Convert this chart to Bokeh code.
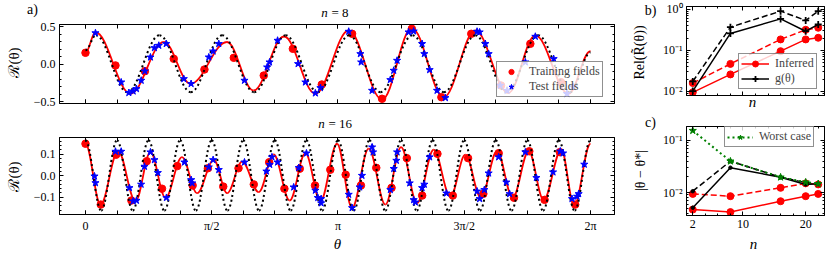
import numpy as np
from bokeh.plotting import figure
from bokeh.models import (Range1d, LinearAxis, LogAxis, FixedTicker, Label, Legend,
                          LegendItem, ColumnDataSource)
from bokeh.layouts import row, column
from bokeh.embed import file_html
from bokeh.resources import INLINE

# ---------------- data ----------------
# panel a, n = 8 : inferred curve (extrema), true curve (extrema)
curve8_theta = [0.0, 0.124, 0.56, 0.974, 1.306, 1.76, 2.09, 2.47, 2.86, 3.275, 3.69, 4.06,
                4.457, 4.85, 5.26, 5.597, 6.01, 6.283]
curve8_R = [0.156, 0.43, -0.39, 0.30, -0.257, 0.30, -0.347, 0.373, -0.39, 0.453, -0.467, 0.484,
            -0.436, 0.453, -0.38, 0.387, -0.39, 0.177]
true8_theta = [0.0, 0.13, 0.52, 0.92, 1.31, 1.70, 2.10, 2.49, 2.89, 3.28, 3.67, 4.07, 4.46,
               4.85, 5.24, 5.63, 6.03, 6.283]
true8_R = [0.19, 0.39, -0.37, 0.39, -0.37, 0.39, -0.37, 0.39, -0.37, 0.39, -0.37, 0.39, -0.37,
           0.39, -0.37, 0.39, -0.37, 0.16]
train8_theta = [0.0, 0.373, 0.739, 1.098, 1.48, 1.845, 2.218, 2.58, 2.94, 3.317, 3.69, 4.06,
                4.428, 4.80, 5.17, 5.535, 5.917]
train8_R = [0.156, -0.013, -0.089, 0.076, -0.067, 0.089, -0.147, 0.209, -0.267, 0.409, -0.457,
            0.476, -0.436, 0.409, -0.28, 0.276, -0.236]
test8_theta = [0.124, 0.444, 0.539, 0.593, 0.634, 0.693, 0.738, 0.808, 0.858, 0.912, 1.004,
               1.223, 1.314, 1.534, 1.588, 1.658, 1.978, 2.26, 2.29, 2.39, 2.645, 2.736, 2.86,
               2.923, 3.275, 3.42, 3.43, 3.566, 3.793, 3.835, 3.877, 4.02, 4.083, 4.188, 4.216,
               4.282, 4.374, 4.478, 4.872, 4.904, 4.975, 5.016, 5.16, 5.245, 5.473, 5.597, 5.825,
               5.99, 6.065]
test8_R = [0.42, -0.236, -0.377, -0.356, -0.324, -0.213, -0.089, 0.097, 0.222, 0.253, 0.276,
           -0.191, -0.257, 0.097, 0.177, 0.276, -0.213, -0.036, 0.031, 0.32, 0.009, -0.236, -0.382,
           -0.311, 0.44, 0.142, 0.031, -0.347, -0.204, -0.08, 0.053, 0.431, 0.444, 0.276, 0.142,
           -0.071, -0.347, -0.444, 0.44, 0.431, 0.276, 0.142, -0.28, -0.347, 0.031, 0.373, 0.076,
           -0.39, -0.30]

# panel a, n = 16
curve16_theta = [0.0, 0.187, 0.405, 0.622, 0.808, 0.995, 1.20, 1.389, 1.596, 1.762, 1.949, 2.156,
                 2.342, 2.54, 2.736, 2.923, 3.13, 3.317, 3.524, 3.731, 3.926, 4.125, 4.332, 4.54,
                 4.726, 4.92, 5.12, 5.315, 5.514, 5.70, 5.92, 6.08, 6.283]
curve16_R = [0.149, -0.134, 0.115, -0.118, 0.11, -0.102, 0.087, -0.081, 0.074, -0.081, 0.066,
             -0.076, 0.099, -0.115, 0.105, -0.118, 0.149, -0.149, 0.126, -0.134, 0.133, -0.127,
             0.121, -0.096, 0.098, -0.102, 0.114, -0.102, 0.114, -0.112, 0.121, -0.138, 0.149]
true16_theta = [0.0, 0.196, 0.393, 0.589, 0.785, 0.982, 1.178, 1.374, 1.571, 1.767, 1.963, 2.160,
                2.356, 2.553, 2.749, 2.945, 3.142, 3.338, 3.534, 3.731, 3.927, 4.123, 4.320, 4.516,
                4.712, 4.909, 5.105, 5.301, 5.498, 5.694, 5.890, 6.087, 6.283]
true16_R = [0.165, -0.162, 0.165, -0.162, 0.165, -0.162, 0.165, -0.162, 0.165, -0.162, 0.165,
            -0.162, 0.165, -0.162, 0.165, -0.162, 0.165, -0.162, 0.165, -0.162, 0.165, -0.162,
            0.165, -0.162, 0.165, -0.162, 0.165, -0.162, 0.165, -0.162, 0.165, -0.162, 0.165]
train16_theta = [0.0, 0.19, 0.381, 0.571, 0.762, 0.952, 1.142, 1.333, 1.523, 1.714, 1.904, 2.094,
                 2.285, 2.475, 2.666, 2.856, 3.046, 3.237, 3.427, 3.618, 3.808, 3.998, 4.189,
                 4.379, 4.57, 4.76, 4.95, 5.141, 5.331, 5.522, 5.712, 5.902, 6.093]
train16_R = [0.149, -0.134, 0.098, -0.115, 0.068, -0.06, 0.045, -0.045, 0.035, -0.05, 0.035,
             -0.04, 0.063, -0.06, 0.033, -0.045, 0.028, 0.005, -0.045, 0.037, -0.056, 0.082,
             -0.092, 0.102, -0.092, 0.082, -0.084, 0.105, -0.102, 0.114, -0.112, 0.11, -0.134]
test16_theta = [0.112, 0.124, 0.373, 0.444, 0.547, 0.593, 0.634, 0.692, 0.734, 0.808, 0.858, 0.9,
                1.007, 1.231, 1.315, 1.327, 1.534, 1.588, 1.658, 1.978, 2.251, 2.292, 2.32, 2.39,
                2.59, 2.653, 2.749, 2.86, 2.89, 2.932, 2.932, 3.275, 3.317, 3.412, 3.44, 3.566,
                3.578, 3.793, 3.835, 3.868, 3.877, 4.034, 4.083, 4.104, 4.188, 4.216, 4.282, 4.49,
                4.872, 4.904, 4.963, 5.016, 5.14, 5.236, 5.277, 5.473, 5.61, 5.817, 5.908, 5.942,
                6.053, 6.116, 6.136, 6.206]
test16_R = [-0.002, -0.033, 0.113, 0.113, -0.056, -0.118, -0.115, -0.04, 0.043, 0.11, 0.074, 0.014,
            -0.102, 0.063, -0.019, -0.034, 0.04, 0.074, 0.028, 0.063, 0.021, 0.052, 0.087, 0.063,
            -0.053, 0.037, 0.105, -0.068, -0.102, -0.107, -0.127, -0.087, -0.149, -0.053, 0.001,
            0.133, 0.11, -0.065, 0.033, 0.071, 0.11, -0.034, -0.112, -0.123, -0.056, -0.04, 0.087,
            -0.081, -0.072, -0.107, -0.065, 0.012, 0.087, -0.03, -0.084, 0.11, -0.009, 0.017,
            0.114, 0.105, -0.107, -0.096, -0.084, 0.053]

# panel b / c
n_vals = [2, 8, 16, 20, 22]
rel_inferred = [0.0095, 0.026, 0.096, 0.186, 0.204]
rel_inferred_dashed = [0.016, 0.047, 0.186, 0.32, 0.358]
rel_g = [0.0102, 0.26, 0.59, 0.295, 0.43]
rel_g_dashed = [0.0175, 0.37, 0.91, 0.54, 0.91]
err_inferred = [0.0047, 0.0042, 0.0068, 0.0085, 0.0094]
err_inferred_dashed = [0.0094, 0.0085, 0.0123, 0.0150, 0.0143]
err_g = [0.0051, 0.030, 0.0197, 0.0143, 0.0147]
err_g_dashed = [0.0106, 0.040, 0.0197, 0.0155, 0.0145]
err_worst = [0.155, 0.040, 0.0197, 0.0158, 0.0147]

theta_tick_labels = ["0", "π/2", "π", "3π/2", "2π"]
a8_tick_labels = ["−0.5", "0.0", "0.5"]
a16_tick_labels = ["−0.1", "0.0", "0.1"]
log_tick_labels = ["10⁻²", "10⁻¹", "10⁰"]
n_tick_labels = ["2", "10", "20"]

FONT = "Liberation Serif"
RED, BLUE, GREEN = "#ff0000", "#0000ff", "#008000"
W, H = 830, 257


def make_fig(w, h, xr, yr, mb, ylog=False):
    p = figure(width=w, height=h, x_range=Range1d(*xr), y_range=Range1d(*yr),
               y_axis_type="log" if ylog else "linear", output_backend="svg",
               toolbar_location=None, min_border_left=mb[0], min_border_right=mb[1],
               min_border_top=mb[2], min_border_bottom=mb[3])
    p.grid.visible = False
    p.outline_line_color = "black"
    p.outline_line_width = 1
    p.background_fill_color = "white"
    p.border_fill_color = "white"
    return p


def style_axis(ax, ticks, minor, labels=None, minor_len=2):
    ax.ticker = FixedTicker(ticks=list(ticks), minor_ticks=list(minor))
    ax.major_tick_in = 4
    ax.major_tick_out = 0
    ax.minor_tick_in = minor_len
    ax.minor_tick_out = 0
    ax.axis_line_color = "black"
    ax.major_tick_line_color = "black"
    ax.minor_tick_line_color = "black"
    if labels is not None:
        ax.major_label_overrides = {t: s for t, s in zip(ticks, labels)}
        ax.major_label_text_font = FONT
        ax.major_label_text_font_size = "12px"
        ax.major_label_text_color = "black"
        ax.major_label_standoff = 4
    else:
        ax.major_label_overrides = {t: "" for t in ticks}
        ax.major_label_text_font_size = "0px"
        ax.major_label_standoff = 0


def add_extra_axes(p, xt, xm, yt, ym, ylog=False, xminor_len=2, yminor_len=2):
    ax_top = LinearAxis()
    style_axis(ax_top, xt, xm, None, xminor_len)
    p.add_layout(ax_top, "above")
    ax_right = LogAxis() if ylog else LinearAxis()
    style_axis(ax_right, yt, ym, None, yminor_len)
    p.add_layout(ax_right, "right")


def bez(p, xs, ys, **kw):
    x0 = np.array(xs[:-1], float); x1 = np.array(xs[1:], float)
    y0 = np.array(ys[:-1], float); y1 = np.array(ys[1:], float)
    k = 0.3634
    src = ColumnDataSource(dict(x0=x0, y0=y0, x1=x1, y1=y1, cx0=x0 + k * (x1 - x0), cy0=y0,
                                cx1=x1 - k * (x1 - x0), cy1=y1))
    return p.bezier(x0="x0", y0="y0", x1="x1", y1="y1", cx0="cx0", cy0="cy0", cx1="cx1",
                    cy1="cy1", source=src, **kw)


def legend(items, loc, glyph_w, row_h, pad):
    return Legend(items=items, location=loc, padding=pad, spacing=0, margin=0,
                  label_standoff=6, glyph_width=glyph_w, glyph_height=row_h,
                  label_height=row_h, label_text_font=FONT, label_text_font_size="12px",
                  border_line_color="#222222", border_line_width=1.2,
                  background_fill_color="white", background_fill_alpha=0.8)


# ---------------- geometry (page pixels, no body margin) ----------------
LW, RW = 640, 190
XR = (-0.3235, 6.582)
theta_major = [0, np.pi / 2, np.pi, 3 * np.pi / 2, 2 * np.pi]
theta_minor = [k * np.pi / 8 for k in range(17)]

# ---------------- panel a, n = 8 ----------------
a1 = make_fig(LW, 120, XR, (-0.52, 0.533), (59, LW - 614, 24, 17))
style_axis(a1.xaxis[0], theta_major, theta_minor, None, 4)
style_axis(a1.yaxis[0], [-0.5, 0.0, 0.5], [-0.5 + 0.1 * k for k in range(11)], a8_tick_labels)
add_extra_axes(a1, theta_major, theta_minor, [-0.5, 0.0, 0.5],
               [-0.5 + 0.1 * k for k in range(11)], xminor_len=4)
bez(a1, curve8_theta, curve8_R, line_color=RED, line_width=1.8)
r_tr8 = a1.scatter(train8_theta, train8_R, marker="circle", size=7.5, color=RED)
bez(a1, true8_theta, true8_R, line_color="black", line_width=2, line_dash="2 3")
r_te8 = a1.scatter(test8_theta, test8_R, marker="star", size=7.5, color=BLUE)
a1.add_layout(legend([LegendItem(label="Training fields", renderers=[r_tr8]),
                      LegendItem(label="Test fields", renderers=[r_te8])],
                     (437, 6), 24, 13, 2))

# ---------------- panel a, n = 16 ----------------
a2 = make_fig(LW, 137, XR, (-0.18, 0.178), (59, LW - 614, 17, 43))
style_axis(a2.xaxis[0], theta_major, theta_minor, theta_tick_labels, 4)
style_axis(a2.yaxis[0], [-0.1, 0.0, 0.1], [-0.18 + 0.02 * k for k in range(19)],
           a16_tick_labels)
add_extra_axes(a2, theta_major, theta_minor, [-0.1, 0.0, 0.1],
               [-0.18 + 0.02 * k for k in range(19)], xminor_len=4)
bez(a2, curve16_theta, curve16_R, line_color=RED, line_width=1.8)
a2.scatter(train16_theta, train16_R, marker="circle", size=7.5, color=RED)
bez(a2, true16_theta, true16_R, line_color="black", line_width=2, line_dash="2 3")
a2.scatter(test16_theta, test16_R, marker="star", size=7.5, color=BLUE)

# ---------------- panel b ----------------
log_major = [0.01, 0.1, 1.0]
log_minor = [m * 10.0 ** e for e in (-3, -2, -1, 0) for m in range(2, 10)]
n_major = [2, 10, 20]
n_minor = list(range(2, 24, 2))

b = make_fig(RW, 118, (1, 23), (10 ** -2.10, 10 ** 0.073), (46, RW - 824 + LW, 6, 23),
             ylog=True)
style_axis(b.xaxis[0], n_major, n_minor, None)
style_axis(b.yaxis[0], log_major, log_minor, log_tick_labels)
add_extra_axes(b, n_major, n_minor, log_major, log_minor, ylog=True)
lb1 = b.line(n_vals, rel_inferred, line_color=RED, line_width=1.5)
sb1 = b.scatter(n_vals, rel_inferred, marker="circle", size=7, color=RED)
b.line(n_vals, rel_inferred_dashed, line_color=RED, line_width=1.5, line_dash="6 3")
b.scatter(n_vals, rel_inferred_dashed, marker="circle", size=7, color=RED)
lb2 = b.line(n_vals, rel_g, line_color="black", line_width=1.5)
sb2 = b.scatter(n_vals, rel_g, marker="cross", size=7, line_width=1.8, color="black")
b.line(n_vals, rel_g_dashed, line_color="black", line_width=1.5, line_dash="6 3")
b.scatter(n_vals, rel_g_dashed, marker="cross", size=7, line_width=1.8, color="black")
b.add_layout(legend([LegendItem(label="Inferred", renderers=[lb1, sb1]),
                     LegendItem(label="g(θ)", renderers=[lb2, sb2])],
                    (52, 6), 28, 15, 2))

# ---------------- panel c ----------------
c = make_fig(RW, 139, (1, 23), (10 ** -2.442, 10 ** -0.731), (46, RW - 824 + LW, 8, 42),
             ylog=True)
style_axis(c.xaxis[0], n_major, n_minor, n_tick_labels)
style_axis(c.yaxis[0], log_major, log_minor, log_tick_labels)
add_extra_axes(c, n_major, n_minor, log_major, log_minor, ylog=True)
c.line(n_vals, err_inferred, line_color=RED, line_width=1.5)
c.scatter(n_vals, err_inferred, marker="circle", size=7, color=RED)
c.line(n_vals, err_inferred_dashed, line_color=RED, line_width=1.5, line_dash="6 3")
c.scatter(n_vals, err_inferred_dashed, marker="circle", size=7, color=RED)
c.line(n_vals, err_g, line_color="black", line_width=1.5)
c.scatter(n_vals, err_g, marker="circle", size=3.5, color="black")
c.line(n_vals, err_g_dashed, line_color="black", line_width=1.5, line_dash="6 3")
c.scatter(n_vals, err_g_dashed, marker="circle", size=3.5, color="black")
lw = c.line(n_vals, err_worst, line_color=GREEN, line_width=2, line_dash="2 3")
sw = c.scatter(n_vals, err_worst, marker="star", size=7.5, color=GREEN)
c.add_layout(legend([LegendItem(label="Worst case", renderers=[lw, sw])],
                    (38, 68), 26, 12, 2))

# ---------------- overlay for texts outside the frames (page pixel coordinates) ----------------
ov = figure(width=W, height=H, x_range=Range1d(0, W), y_range=Range1d(H, 0),
            output_backend="svg", toolbar_location=None, min_border=0,
            x_axis_location=None, y_axis_location=None,
            background_fill_alpha=0, border_fill_alpha=0, outline_line_color=None,
            styles={"position": "absolute", "top": "0px", "left": "0px",
                    "pointer-events": "none"})
ov.grid.visible = False


def txt(x, y, text, size, style="normal", align="center", angle=0.0):
    ov.add_layout(Label(x=x, y=y, text=text, text_font=FONT, text_font_size=f"{size}px",
                        text_font_style=style, text_align=align, text_baseline="middle",
                        angle=angle, text_color="black"))


txt(32, 9, "a)", 14)
txt(324, 12, "n", 13, "italic")
txt(331, 12, "= 8", 13, align="left")
txt(321, 123, "n", 13, "italic")
txt(328, 123, "= 16", 13, align="left")
txt(13, 62, "ℛ(θ)", 15, angle=np.pi / 2)
txt(13, 176, "ℛ(θ)", 15, angle=np.pi / 2)
txt(337, 243, "θ", 15, "italic")
txt(650, 10, "b)", 14)
txt(650, 122, "c)", 14)
txt(639, 52, "Rel(R\u0303(θ))", 14, angle=np.pi / 2)
txt(640, 170, "|θ − θ*|", 14, angle=np.pi / 2)
txt(752, 101, "n", 15, "italic")
txt(753, 243, "n", 15, "italic")

layout = column(row(column(a1, a2), column(b, c)), ov)
open("out.html", "w").write(file_html(layout, INLINE))
